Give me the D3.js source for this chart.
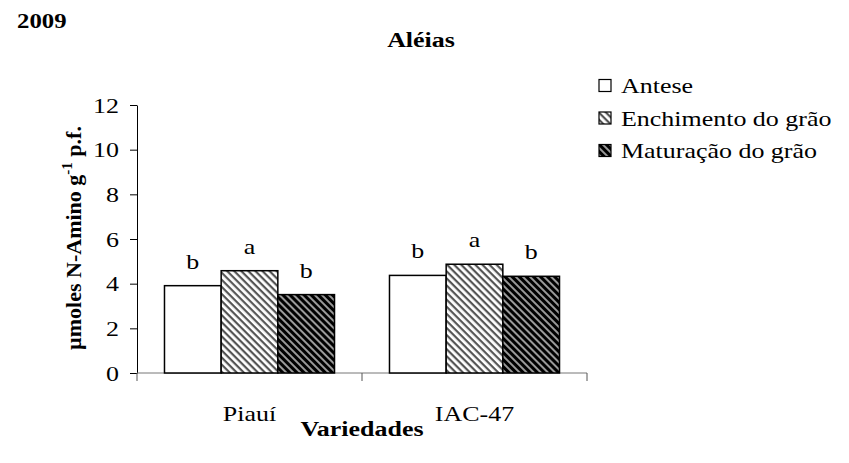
<!DOCTYPE html>
<html><head><meta charset="utf-8">
<script src="https://cdn.jsdelivr.net/npm/d3@7"></script>
<style>body{margin:0;background:#fff}svg{display:block}text{font-family:"Liberation Serif";fill:#000}</style>
</head><body><svg id="c" width="849" height="463"></svg>
<script>
const categories = ["Piauí", "IAC-47"];
const seriesNames = ["Antese", "Enchimento do grão", "Maturação do grão"];
const antese = [3.91, 4.37];
const enchimento = [4.58, 4.87];
const maturacao = [3.51, 4.33];
const letters = [["b","a","b"],["b","a","b"]];
const yTicks = [0, 2, 4, 6, 8, 10, 12];

const values = [antese, enchimento, maturacao];
const SX = 1.18;
const svg = d3.select("#c");
const defs = svg.append("defs");
function hatch(id, bg, fg, sw){
  const p = defs.append("pattern").attr("id", id).attr("patternUnits","userSpaceOnUse")
    .attr("width", 5).attr("height", 5).attr("patternTransform","rotate(45)");
  p.append("rect").attr("width",5).attr("height",5).attr("fill",bg);
  p.append("rect").attr("y",0).attr("width",5).attr("height",sw).attr("fill",fg);
}
hatch("pEnch", "#ffffff", "#555555", 2.2);
hatch("pMat", "#000000", "#999999", 2.0);
const fills = ["#ffffff", "url(#pEnch)", "url(#pMat)"];

function label(x, y, str, size, bold, anchor){
  return svg.append("text").attr("transform", `translate(${x},${y}) scale(${SX},1)`)
    .attr("text-anchor", anchor || "start").style("font-size", size + "px")
    .style("font-weight", bold ? "bold" : "normal").text(str);
}

const m = {l:137, r:587, t:105, b:373};
const x = d3.scaleBand().domain(categories).range([m.l, m.r]).paddingInner(0).paddingOuter(0);
const xs = d3.scaleBand().domain(d3.range(3)).range([0, x.bandwidth()]).paddingOuter(0.485).paddingInner(0);
const y = d3.scaleLinear().domain([0, 12]).range([m.b, m.t]);

// y axis
const ya = svg.append("g").attr("transform", `translate(${m.l},0)`)
  .call(d3.axisLeft(y).tickValues(yTicks).tickSize(7).tickFormat("").tickSizeOuter(0));
ya.select(".domain").attr("stroke","#000");
ya.selectAll(".tick line").attr("stroke","#000");
yTicks.forEach(t => label(119, y(t) + 7.5, String(t), 22, false, "end"));

// x axis
const xa = svg.append("g").attr("transform", `translate(0,${m.b})`)
  .call(d3.axisBottom(x).tickSize(0).tickFormat(""));
xa.select(".domain").attr("stroke","#777").attr("d", `M${m.l},0H${m.r}`);
const xt = [m.l].concat(categories.map(c => x(c) + x.bandwidth()));
svg.append("g").selectAll("line").data(xt).join("line")
  .attr("x1", d=>d).attr("x2", d=>d).attr("y1", m.b).attr("y2", m.b+8).attr("stroke","#555");
categories.forEach(c => label(x(c) + x.bandwidth()/2, 421, c, 22, false, "middle"));

// bars
categories.forEach((c, ci) => {
  values.forEach((vals, si) => {
    const bx = x(c) + xs(si);
    svg.append("rect").attr("x", bx).attr("y", y(vals[ci])).attr("width", xs.bandwidth())
      .attr("height", y(0) - y(vals[ci])).attr("fill", fills[si]).attr("stroke","#000").attr("stroke-width",1.5);
    label(bx + xs.bandwidth()/2, y(vals[ci]) - 17, letters[ci][si], 22, false, "middle");
  });
});

// titles
label(17, 28, "2009", 21, true, "start");
label(421, 47, "Aléias", 22, true, "middle");
label(362, 436, "Variedades", 22, true, "middle");
const yl = svg.append("text").attr("transform","translate(81,238) rotate(-90)").attr("text-anchor","middle")
  .style("font-size","22px").style("font-weight","bold");
yl.append("tspan").text("µmoles N-Amino g");
yl.append("tspan").attr("dy", -9).style("font-size","15px").text("-1");
yl.append("tspan").attr("dy", 9).text(" p.f.");

// legend
seriesNames.forEach((n, i) => {
  const ly = 86 + i * 32.5;
  svg.append("rect").attr("x", 599).attr("y", ly - 6.5).attr("width", 12).attr("height", 12)
    .attr("fill", fills[i]).attr("stroke","#000").attr("stroke-width",1.2);
  label(621, ly + 7, n, 22, false, "start");
});
</script></body></html>
